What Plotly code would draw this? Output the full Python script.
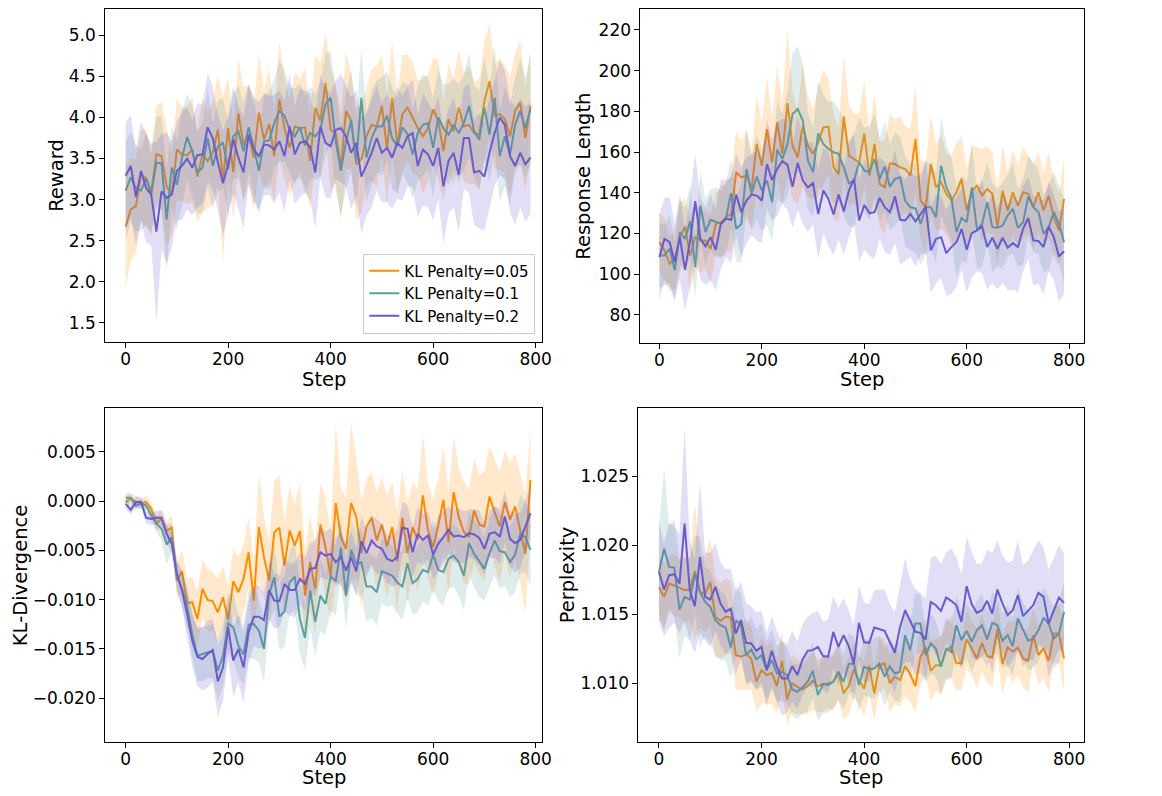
import plotly.graph_objects as go

# training steps logged every 10 steps
steps = list(range(0, 800, 10))

# ---- Reward ----
reward_005 = [2.67, 2.88, 2.92, 3.30, 3.26, 3.10, 3.55, 3.53, 3.16, 3.06,
              3.61, 3.55, 3.54, 3.61, 3.28, 3.55, 3.47, 3.57, 3.85, 3.24,
              3.87, 3.33, 4.05, 3.67, 3.79, 3.51, 4.06, 3.73, 3.92, 3.53,
              4.22, 3.87, 3.63, 3.89, 3.87, 3.88, 3.47, 4.12, 3.96, 4.42,
              3.85, 3.81, 3.39, 4.08, 3.96, 3.43, 3.49, 3.77, 3.91, 3.89,
              4.14, 3.61, 4.24, 3.67, 4.04, 4.12, 4.00, 3.87, 3.77, 3.87,
              4.10, 3.96, 3.59, 3.98, 3.83, 4.12, 3.89, 3.91, 3.81, 3.79,
              4.20, 4.44, 4.02, 4.04, 3.98, 3.77, 4.08, 4.18, 3.75, 4.14]
reward_01 = [3.11, 3.27, 3.14, 3.11, 3.26, 3.06, 3.45, 3.44, 2.76, 3.39,
             3.18, 3.51, 3.76, 3.59, 3.33, 3.39, 3.75, 3.41, 3.65, 3.69,
             3.37, 3.77, 3.83, 3.59, 3.88, 3.64, 3.35, 3.71, 3.72, 3.93,
             4.08, 4.02, 3.85, 3.77, 3.88, 3.66, 3.81, 3.77, 3.85, 4.16,
             4.24, 3.71, 3.35, 3.71, 3.96, 3.47, 4.24, 3.51, 3.75, 3.89,
             3.89, 4.02, 3.75, 3.65, 3.88, 3.80, 3.55, 3.81, 3.91, 3.93,
             3.63, 4.00, 3.87, 3.79, 3.91, 3.81, 3.93, 4.14, 3.83, 3.73,
             4.12, 3.79, 4.24, 3.53, 3.77, 3.55, 3.91, 4.08, 3.87, 4.10]
reward_02 = [3.29, 3.41, 3.03, 3.35, 3.14, 3.06, 2.61, 3.10, 3.02, 3.06,
             3.35, 3.41, 3.50, 3.39, 3.54, 3.55, 3.88, 3.75, 3.45, 3.20,
             3.43, 3.73, 3.51, 3.33, 3.79, 3.61, 3.53, 3.67, 3.66, 3.61,
             3.71, 3.53, 3.89, 3.55, 3.69, 3.71, 3.64, 3.33, 3.89, 3.69,
             3.65, 3.85, 3.87, 3.77, 3.57, 3.69, 3.28, 3.43, 3.57, 3.75,
             3.57, 3.63, 3.51, 3.69, 3.63, 3.77, 3.81, 3.41, 3.61, 3.55,
             3.41, 3.63, 3.16, 3.47, 3.57, 3.30, 3.75, 3.75, 3.33, 3.35,
             3.28, 3.57, 3.81, 4.00, 3.91, 3.53, 3.41, 3.57, 3.43, 3.51]
reward_005_sd = [0.75, 0.62, 0.58, 0.55, 0.60, 0.52, 0.58, 0.66, 0.72, 0.50,
                 0.62, 0.57, 0.60, 0.64, 0.55, 0.70, 0.58, 0.62, 0.66, 1.00,
                 0.62, 0.58, 0.66, 0.70, 0.60, 0.64, 0.72, 0.60, 0.68, 0.55,
                 0.70, 0.62, 0.58, 0.66, 0.60, 0.72, 0.58, 0.64, 0.70, 0.62,
                 0.75, 0.60, 0.66, 0.72, 0.58, 0.70, 0.64, 0.60, 0.68, 0.74,
                 0.62, 0.66, 0.70, 0.60, 0.72, 0.64, 0.68, 0.58, 0.70, 0.66,
                 0.62, 0.74, 0.60, 0.68, 0.64, 0.70, 0.66, 0.72, 0.62, 0.68,
                 0.74, 0.70, 0.64, 0.68, 0.66, 0.72, 0.70, 0.76, 0.62, 0.68]
reward_01_sd = [0.60, 0.55, 0.52, 0.50, 0.56, 0.48, 0.55, 0.58, 0.62, 0.50,
                0.54, 0.58, 0.52, 0.56, 0.50, 0.55, 0.60, 0.52, 0.56, 0.54,
                0.58, 0.52, 0.56, 0.60, 0.54, 0.58, 0.52, 0.56, 0.60, 0.54,
                0.62, 0.56, 0.52, 0.58, 0.54, 0.60, 0.56, 0.52, 0.58, 0.62,
                0.56, 0.60, 0.54, 0.58, 0.62, 0.56, 0.60, 0.54, 0.58, 0.56,
                0.60, 0.54, 0.62, 0.58, 0.56, 0.60, 0.54, 0.58, 0.62, 0.56,
                0.60, 0.58, 0.54, 0.62, 0.56, 0.60, 0.58, 0.64, 0.56, 0.60,
                0.62, 0.58, 0.64, 0.56, 0.60, 0.62, 0.58, 0.64, 0.60, 0.66]
reward_02_sd = [0.65, 0.62, 0.58, 0.60, 0.66, 0.62, 1.10, 0.70, 0.80, 0.64,
                0.60, 0.66, 0.62, 0.58, 0.64, 0.60, 0.66, 0.62, 0.58, 0.64,
                0.60, 0.66, 0.62, 0.68, 0.60, 0.64, 0.66, 0.62, 0.60, 0.66,
                0.62, 0.68, 0.64, 0.60, 0.66, 0.62, 0.64, 0.68, 0.62, 0.66,
                0.64, 0.60, 0.66, 0.62, 0.68, 0.64, 0.70, 0.62, 0.66, 0.64,
                0.60, 0.66, 0.62, 0.68, 0.64, 0.60, 0.66, 0.62, 0.68, 0.64,
                0.66, 0.62, 0.70, 0.64, 0.66, 0.68, 0.62, 0.66, 0.64, 0.70,
                0.66, 0.68, 0.64, 0.70, 0.66, 0.68, 0.72, 0.66, 0.70, 0.68]

# ---- Response Length ----
length_005 = [115.7, 111.7, 105.1, 107.6, 118.2, 123.4, 109.2, 118.2, 116.6, 116.6,
              112.5, 124.7, 125.5, 128.0, 129.6, 150.1, 147.6, 148.4, 141.9, 164.0,
              153.3, 171.3, 155.0, 174.6, 159.1, 184.1, 163.1, 157.4, 172.9, 163.1,
              159.1, 164.8, 172.1, 172.5, 152.5, 149.2, 177.4, 158.2, 156.6, 155.0,
              169.2, 148.4, 164.0, 144.3, 142.7, 154.5, 154.1, 152.5, 151.7, 148.4,
              166.4, 136.2, 132.9, 154.1, 142.7, 145.2, 139.5, 136.2, 140.3, 146.8,
              131.3, 141.1, 143.5, 138.6, 141.9, 139.5, 123.1, 141.1, 131.3, 140.3,
              133.7, 140.3, 139.5, 132.9, 140.3, 131.3, 138.6, 128.0, 121.5, 137.0]
length_01 = [109.2, 109.2, 112.5, 101.9, 120.7, 117.4, 126.0, 103.5, 133.7, 120.7,
             126.7, 125.5, 124.7, 127.6, 139.8, 122.3, 124.7, 151.7, 139.5, 148.0,
             141.1, 146.0, 135.4, 161.1, 156.6, 164.0, 178.7, 181.2, 175.4, 155.8,
             150.1, 169.2, 164.0, 161.5, 159.9, 159.1, 152.5, 144.7, 146.0, 155.0,
             150.9, 150.1, 156.6, 146.8, 152.8, 143.0, 146.8, 147.6, 135.9, 132.9,
             132.4, 124.7, 132.9, 132.9, 128.0, 153.3, 142.7, 137.5, 120.7, 127.6,
             125.5, 142.7, 121.8, 124.7, 135.4, 123.1, 122.8, 123.9, 128.8, 132.1,
             122.8, 125.5, 138.1, 132.9, 130.5, 119.8, 123.1, 130.5, 124.7, 115.7]
length_02 = [108.4, 117.4, 115.7, 105.9, 118.2, 102.2, 116.6, 135.9, 117.4, 113.7,
             118.2, 112.0, 124.7, 127.2, 126.7, 139.1, 130.5, 136.2, 139.1, 138.6,
             136.2, 154.1, 146.3, 151.7, 155.5, 153.7, 143.0, 154.7, 146.0, 142.7,
             144.7, 129.6, 141.1, 137.0, 129.3, 139.1, 130.8, 141.1, 146.8, 126.4,
             134.0, 130.0, 130.5, 137.5, 132.9, 130.5, 138.3, 126.7, 126.4, 129.6,
             125.9, 129.6, 133.2, 111.7, 117.4, 118.2, 110.3, 113.3, 115.7, 122.3,
             112.0, 120.2, 121.5, 123.4, 113.3, 117.9, 112.5, 117.9, 113.0, 115.3,
             113.3, 122.3, 127.6, 116.6, 116.3, 113.3, 123.4, 118.2, 108.7, 111.3]
length_005_sd = [14, 16, 13, 15, 17, 14, 18, 15, 16, 14,
                 17, 15, 18, 16, 19, 20, 18, 22, 19, 24,
                 21, 26, 22, 28, 24, 36, 26, 23, 30, 25,
                 22, 27, 28, 24, 26, 23, 30, 25, 22, 24,
                 26, 22, 25, 21, 23, 24, 22, 25, 21, 23,
                 26, 20, 22, 24, 21, 23, 20, 22, 24, 21,
                 20, 22, 19, 23, 21, 20, 18, 22, 19, 21,
                 20, 22, 19, 21, 20, 18, 21, 19, 18, 20]
length_01_sd = [16, 15, 17, 14, 16, 15, 18, 14, 17, 16,
                15, 17, 16, 18, 17, 16, 19, 20, 18, 21,
                20, 22, 19, 24, 22, 26, 30, 31, 28, 24,
                22, 26, 24, 23, 25, 22, 24, 21, 23, 22,
                21, 23, 22, 20, 22, 21, 23, 20, 22, 21,
                22, 20, 23, 21, 22, 24, 21, 20, 22, 21,
                20, 22, 19, 21, 20, 22, 19, 21, 20, 22,
                19, 21, 20, 22, 21, 19, 21, 20, 19, 21]
length_02_sd = [21, 20, 22, 19, 21, 20, 22, 23, 20, 19,
                21, 20, 22, 19, 21, 20, 22, 21, 20, 22,
                21, 22, 20, 23, 21, 22, 20, 23, 21, 22,
                20, 22, 21, 23, 20, 22, 21, 23, 22, 20,
                22, 21, 23, 20, 22, 21, 23, 22, 20, 21,
                22, 20, 23, 21, 22, 20, 21, 23, 22, 20,
                21, 22, 20, 23, 21, 22, 20, 22, 21, 23,
                22, 21, 20, 22, 21, 23, 22, 21, 22, 21]

# ---- KL-Divergence (values in units of 1e-3) ----
kl_005 = [-0.10, 0.24, -0.10, -0.27, -0.10, -0.78, -2.24, -1.80, -3.05, -2.64,
          -8.07, -7.12, -10.37, -10.27, -11.97, -8.92, -10.03, -10.17, -11.29, -9.76,
          -12.07, -8.14, -9.25, -7.90, -5.19, -10.10, -2.64, -5.69, -8.07, -3.15,
          -2.71, -6.54, -2.98, -4.51, -3.05, -9.59, -6.20, -8.90, -2.37, -4.68,
          -7.56, -0.20, -3.66, -4.85, -0.20, -1.63, -5.29, -2.58, -1.69, -4.00,
          -2.37, -4.61, -2.64, -6.10, -1.69, -5.29, -2.64, -3.93, 0.58, -2.98,
          -4.68, -2.47, 0.14, -4.17, 0.92, -1.63, -3.15, -3.66, -0.95, -2.37,
          -2.58, 0.47, -1.12, -2.58, -0.10, -1.90, -0.54, -2.81, -5.36, 2.17]
kl_01 = [0.34, 0.34, -0.44, -0.27, -0.44, -1.46, -2.31, -2.81, -4.41, -3.66,
         -7.56, -8.92, -10.71, -13.49, -15.69, -15.53, -15.36, -15.19, -17.22, -15.69,
         -12.41, -12.81, -14.68, -15.59, -12.54, -12.47, -13.15, -15.02, -9.42, -7.73,
         -11.73, -11.19, -8.24, -7.66, -11.97, -13.90, -9.08, -12.25, -9.59, -10.44,
         -7.66, -8.07, -4.75, -9.59, -4.95, -6.37, -6.20, -8.68, -8.68, -9.25,
         -7.12, -7.32, -7.56, -8.24, -8.68, -6.31, -8.34, -7.90, -6.98, -7.22,
         -5.42, -6.98, -7.22, -5.86, -5.53, -6.20, -7.56, -4.27, -5.36, -6.10,
         -6.88, -5.29, -4.00, -5.08, -5.19, -6.20, -5.42, -3.32, -3.66, -4.95]
kl_02 = [-0.27, -0.88, -0.10, -0.10, -1.69, -1.80, -1.69, -1.69, -3.32, -4.34,
         -7.39, -9.08, -11.46, -14.17, -15.80, -16.03, -15.53, -15.12, -18.31, -16.88,
         -12.81, -16.20, -15.02, -16.88, -13.32, -11.73, -11.73, -12.07, -9.02, -10.10,
         -10.17, -8.41, -9.02, -9.02, -7.90, -8.41, -6.88, -6.80, -5.19, -5.53,
         -5.36, -6.20, -5.69, -7.05, -5.69, -7.12, -4.07, -5.29, -4.00, -4.61,
         -4.85, -5.86, -6.10, -5.69, -2.71, -2.81, -5.19, -3.32, -3.93, -3.49,
         -5.42, -4.34, -3.66, -2.92, -3.59, -3.49, -3.66, -3.25, -3.39, -3.73,
         -4.85, -3.32, -3.15, -3.59, -1.56, -3.83, -4.27, -3.93, -2.58, -1.22]
kl_005_sd = [0.6, 0.5, 0.6, 0.5, 0.7, 0.6, 0.8, 0.9, 1.0, 1.2,
             1.8, 2.2, 2.5, 2.6, 2.8, 3.0, 3.2, 3.0, 3.4, 3.2,
             3.5, 3.3, 3.6, 3.4, 3.6, 3.8, 5.5, 4.0, 4.2, 5.2,
             5.4, 4.4, 4.6, 4.2, 4.8, 4.5, 4.8, 4.6, 4.2, 5.0,
             4.6, 8.0, 5.0, 5.2, 8.2, 6.0, 5.4, 4.8, 4.6, 5.0,
             4.8, 5.2, 4.6, 5.0, 4.8, 5.0, 4.6, 5.2, 6.2, 4.8,
             5.0, 4.8, 5.4, 5.2, 5.6, 5.0, 5.2, 4.8, 5.4, 5.0,
             5.6, 5.2, 5.4, 5.6, 5.2, 5.8, 5.4, 5.6, 6.0, 5.4]
kl_01_sd = [0.5, 0.5, 0.4, 0.5, 0.5, 0.6, 0.8, 1.2, 2.0, 1.5,
            1.6, 1.8, 2.2, 2.4, 2.6, 2.8, 2.6, 2.8, 3.0, 3.2,
            3.0, 3.4, 3.2, 3.0, 3.4, 3.6, 3.2, 3.4, 3.0, 3.2,
            3.4, 3.6, 3.2, 3.4, 3.6, 3.2, 3.8, 3.4, 3.6, 3.2,
            3.4, 3.6, 3.2, 3.4, 3.0, 3.2, 3.4, 3.6, 3.2, 3.4,
            3.2, 3.4, 3.0, 3.2, 3.4, 3.6, 3.2, 3.4, 3.2, 3.4,
            3.6, 3.2, 3.4, 3.0, 3.2, 3.4, 3.6, 3.2, 3.4, 3.6,
            3.2, 3.4, 3.6, 3.8, 3.4, 3.6, 3.8, 4.0, 3.6, 3.8]
kl_02_sd = [0.5, 0.5, 0.6, 0.5, 0.6, 0.6, 0.7, 0.8, 0.9, 1.0,
            1.4, 1.8, 2.2, 2.6, 3.0, 3.2, 3.4, 3.2, 3.6, 3.4,
            3.2, 3.6, 3.4, 3.6, 3.2, 3.0, 3.2, 2.8, 3.0, 2.8,
            2.6, 2.8, 2.6, 2.8, 2.6, 2.8, 2.6, 2.8, 2.6, 2.4,
            2.6, 2.4, 2.6, 2.8, 2.6, 2.4, 2.6, 2.4, 2.6, 2.8,
            2.6, 2.4, 2.6, 2.8, 2.6, 2.4, 2.6, 2.8, 2.6, 2.4,
            2.6, 2.8, 2.6, 2.4, 2.6, 2.8, 2.6, 2.4, 2.6, 2.8,
            2.6, 2.4, 2.6, 2.8, 2.6, 2.8, 3.0, 2.8, 2.6, 2.8]

# ---- Perplexity (values are (ppl - 1) in units of 1e-3) ----
ppl_005 = [16.93, 16.26, 17.22, 17.10, 16.93, 16.74, 16.79, 18.14, 16.62, 16.45,
           17.34, 14.81, 14.52, 14.81, 14.76, 12.03, 11.91, 12.10, 11.79, 10.10,
           10.94, 10.58, 10.75, 9.78, 11.62, 8.82, 9.98, 9.73, 9.54, 9.78,
           10.17, 9.78, 9.93, 9.98, 10.10, 10.82, 9.25, 9.78, 10.99, 10.25,
           9.58, 11.25, 9.25, 11.30, 11.42, 9.98, 10.46, 10.22, 11.23, 10.65,
           9.78, 11.91, 12.63, 10.89, 11.30, 11.30, 12.39, 12.63, 11.47, 11.42,
           13.16, 12.51, 11.79, 12.92, 11.96, 11.86, 13.89, 11.38, 12.58, 12.27,
           12.58, 11.79, 11.62, 13.48, 12.03, 12.51, 11.62, 13.60, 13.60, 11.79]
ppl_01 = [18.07, 19.76, 18.43, 18.38, 15.34, 16.26, 16.06, 17.90, 16.62, 15.89,
          15.53, 14.57, 14.20, 14.03, 12.58, 14.57, 14.20, 12.03, 12.44, 11.71,
          12.03, 10.94, 11.67, 10.70, 10.82, 10.58, 9.54, 9.37, 9.69, 10.10,
          10.89, 9.13, 9.93, 9.86, 10.10, 10.82, 10.10, 11.38, 11.42, 9.86,
          11.18, 11.02, 11.06, 11.42, 10.46, 11.23, 10.70, 10.82, 13.48, 12.39,
          14.32, 14.32, 12.03, 12.87, 12.51, 11.18, 12.51, 12.27, 14.20, 13.12,
          13.79, 13.00, 13.84, 14.20, 13.16, 14.37, 14.20, 13.07, 13.48, 12.68,
          14.69, 13.84, 13.07, 13.24, 13.84, 14.76, 14.28, 13.24, 13.60, 15.17]
ppl_02 = [18.07, 16.79, 17.83, 17.90, 17.22, 21.57, 16.74, 15.58, 19.15, 16.26,
          16.06, 16.98, 15.77, 15.17, 15.41, 13.60, 14.57, 12.92, 12.87, 12.34,
          12.63, 10.94, 12.34, 11.18, 10.34, 10.34, 11.23, 10.58, 11.71, 12.34,
          12.39, 12.63, 11.96, 11.91, 13.72, 12.63, 13.48, 12.68, 11.42, 14.37,
          12.96, 12.92, 14.03, 13.89, 13.79, 13.00, 12.20, 14.03, 15.29, 14.52,
          13.72, 13.65, 13.16, 15.89, 15.65, 15.24, 16.21, 15.97, 15.65, 14.44,
          17.03, 15.72, 15.10, 15.29, 15.97, 15.05, 16.79, 15.77, 14.93, 15.29,
          16.38, 14.86, 15.29, 15.65, 16.55, 16.26, 14.32, 15.34, 16.21, 15.82]
ppl_005_sd = [2.2, 2.4, 2.0, 2.3, 2.1, 2.5, 2.2, 5.0, 2.6, 2.8,
              3.2, 2.9, 2.7, 2.8, 2.6, 2.5, 2.4, 2.6, 2.3, 2.2,
              2.4, 2.1, 2.3, 2.0, 2.2, 1.9, 2.1, 2.0, 1.8, 2.0,
              2.1, 1.9, 2.0, 1.8, 2.1, 2.0, 1.9, 2.1, 2.0, 1.8,
              2.0, 2.1, 1.9, 2.0, 1.8, 2.1, 2.0, 1.9, 2.2, 2.0,
              1.9, 2.1, 2.0, 2.2, 1.9, 2.1, 2.0, 2.2, 2.0, 1.9,
              2.1, 2.0, 2.2, 2.1, 1.9, 2.2, 2.0, 2.1, 1.9, 2.2,
              2.0, 2.1, 2.3, 2.0, 2.2, 2.1, 2.3, 2.1, 2.2, 2.4]
ppl_01_sd = [3.2, 5.8, 3.0, 3.5, 3.6, 2.8, 3.0, 2.8, 4.0, 2.5,
             2.7, 2.6, 2.5, 2.4, 2.3, 2.5, 2.3, 2.2, 2.4, 2.2,
             2.3, 2.1, 2.2, 2.0, 2.2, 2.0, 1.9, 2.0, 1.9, 2.1,
             2.0, 1.9, 2.1, 2.0, 1.9, 2.1, 2.0, 2.2, 2.0, 1.9,
             2.1, 2.0, 2.2, 2.0, 2.1, 1.9, 2.0, 2.2, 2.1, 2.0,
             2.2, 2.1, 2.0, 2.2, 2.0, 2.1, 2.3, 2.0, 2.2, 2.1,
             2.0, 2.2, 2.1, 2.3, 2.0, 2.2, 2.1, 2.0, 2.2, 2.1,
             2.3, 2.0, 2.2, 2.1, 2.3, 2.2, 2.0, 2.2, 2.1, 2.3]
ppl_02_sd = [3.6, 3.4, 3.8, 3.5, 3.6, 7.0, 3.6, 3.4, 5.5, 3.2,
             3.4, 3.2, 3.0, 3.1, 2.9, 3.0, 2.8, 2.9, 2.7, 2.8,
             2.6, 2.7, 2.5, 2.6, 2.7, 2.5, 2.6, 2.4, 2.6, 2.5,
             2.7, 2.6, 2.5, 2.7, 2.6, 2.8, 2.7, 2.6, 2.8, 2.7,
             2.9, 2.8, 2.7, 2.9, 3.0, 2.8, 2.9, 3.1, 3.8, 3.0,
             3.1, 2.9, 3.0, 3.2, 3.6, 3.4, 3.3, 3.8, 3.5, 3.4,
             3.6, 3.8, 3.5, 3.4, 3.7, 4.4, 3.6, 3.5, 3.8, 3.6,
             4.0, 3.7, 3.6, 4.0, 3.8, 3.6, 3.9, 3.7, 3.8, 3.6]

labels = ["KL Penalty=0.05", "KL Penalty=0.1", "KL Penalty=0.2"]
colors = ["#ff8c00", "#5f9ea0", "#6a5acd"]
fills = ["rgba(255,140,0,0.2)", "rgba(95,158,160,0.2)", "rgba(106,90,205,0.2)"]

panels = [
    ([reward_005, reward_01, reward_02], [reward_005_sd, reward_01_sd, reward_02_sd], 1.0, 0.0),
    ([length_005, length_01, length_02], [length_005_sd, length_01_sd, length_02_sd], 1.0, 0.0),
    ([kl_005, kl_01, kl_02], [kl_005_sd, kl_01_sd, kl_02_sd], 1e-3, 0.0),
    ([ppl_005, ppl_01, ppl_02], [ppl_005_sd, ppl_01_sd, ppl_02_sd], 1e-3, 1.0),
]

fig = go.Figure()

for p, (means, sds, scale, offset) in enumerate(panels):
    xa = "x" if p == 0 else "x%d" % (p + 1)
    ya = "y" if p == 0 else "y%d" % (p + 1)
    for k in range(3):
        m = [offset + v * scale for v in means[k]]
        s = [v * scale for v in sds[k]]
        upper = [a + b for a, b in zip(m, s)]
        lower = [a - b for a, b in zip(m, s)]
        fig.add_trace(go.Scatter(
            x=steps + steps[::-1], y=upper + lower[::-1],
            fill="toself", fillcolor=fills[k], line=dict(width=0),
            mode="lines", hoverinfo="skip", showlegend=False,
            xaxis=xa, yaxis=ya,
        ))
        fig.add_trace(go.Scatter(
            x=steps, y=m, mode="lines", name=labels[k],
            line=dict(color=colors[k], width=2),
            showlegend=(p == 0),
            xaxis=xa, yaxis=ya,
        ))

# the page body has an 8px margin, so the figure is 16px smaller and
# positions below are given in window pixels minus that margin
PAD = 8
W, H = 1162 - 2 * PAD, 796 - 2 * PAD
tick_font = dict(family="DejaVu Sans", size=17, color="black")
title_font = dict(family="DejaVu Sans", size=19.5, color="black")


def px(x):
    return (x - PAD) / W


def py(y):
    return 1 - (y - PAD) / H


def xdom(l, r):
    return [max(0, px(l)), min(1, px(r))]


def ydom(t, b):
    return [max(0, py(b)), min(1, py(t))]


axis_style = dict(showline=True, linecolor="black", linewidth=1, mirror=True,
                  ticks="outside", ticklen=5, tickcolor="black", showgrid=False,
                  zeroline=False, tickfont=tick_font)

# (x domain, y domain, x range, y range, y title, y title x, x title y, extra y options)
boxes = [
    (xdom(106, 547), ydom(8, 341), [-40, 813], [1.272, 5.32], "Reward", 57, 379,
     dict(tickvals=[1.5, 2.0, 2.5, 3.0, 3.5, 4.0, 4.5, 5.0], tickformat=".1f")),
    (xdom(646, 1093), ydom(8, 342), [-37, 828], [66.4, 230.3], "Response Length", 589, 379,
     dict(dtick=20, tick0=0)),
    (xdom(106, 547), ydom(408, 742), [-40, 813], [-0.02447, 0.00941], "KL-Divergence", 20, 777,
     dict(dtick=0.005, tick0=0, tickformat=".3f")),
    (xdom(644, 1093), ydom(408, 742), [-40, 828], [1.00572, 1.02993], "Perplexity", 572, 777,
     dict(dtick=0.005, tick0=1.0, tickformat=".3f")),
]

annotations = []
layout = dict(
    width=W, height=H,
    margin=dict(l=0, r=0, t=0, b=0),
    paper_bgcolor="white", plot_bgcolor="white",
    font=dict(family="DejaVu Sans", color="black"),
    legend=dict(x=px(540), y=py(333), xanchor="right", yanchor="bottom",
                bgcolor="rgba(255,255,255,0.85)", bordercolor="#cccccc", borderwidth=1,
                tracegroupgap=0,
                font=dict(family="DejaVu Sans", size=15, color="black")),
)

for p, (xd, yd, xr, yr, ytitle, ytx, xty, yextra) in enumerate(boxes):
    xk = "xaxis" if p == 0 else "xaxis%d" % (p + 1)
    yk = "yaxis" if p == 0 else "yaxis%d" % (p + 1)
    xa = "x" if p == 0 else "x%d" % (p + 1)
    ya = "y" if p == 0 else "y%d" % (p + 1)
    layout[xk] = dict(axis_style, domain=xd, range=xr, anchor=ya,
                      tickvals=[0, 200, 400, 600, 800], ticklabelstandoff=-3)
    layout[yk] = dict(axis_style, domain=yd, range=yr, anchor=xa, **yextra)
    # axis titles placed as matplotlib puts them
    annotations.append(dict(text="Step", xref="paper", yref="paper",
                            x=(xd[0] + xd[1]) / 2, y=py(xty), xanchor="center", yanchor="middle",
                            showarrow=False, font=title_font, borderpad=0))
    annotations.append(dict(text=ytitle, xref="paper", yref="paper", textangle=-90,
                            x=px(ytx), y=(yd[0] + yd[1]) / 2, xanchor="center", yanchor="middle",
                            showarrow=False, font=title_font, borderpad=0))

layout["annotations"] = annotations
fig.update_layout(**layout)

fig.write_html("out.html")
